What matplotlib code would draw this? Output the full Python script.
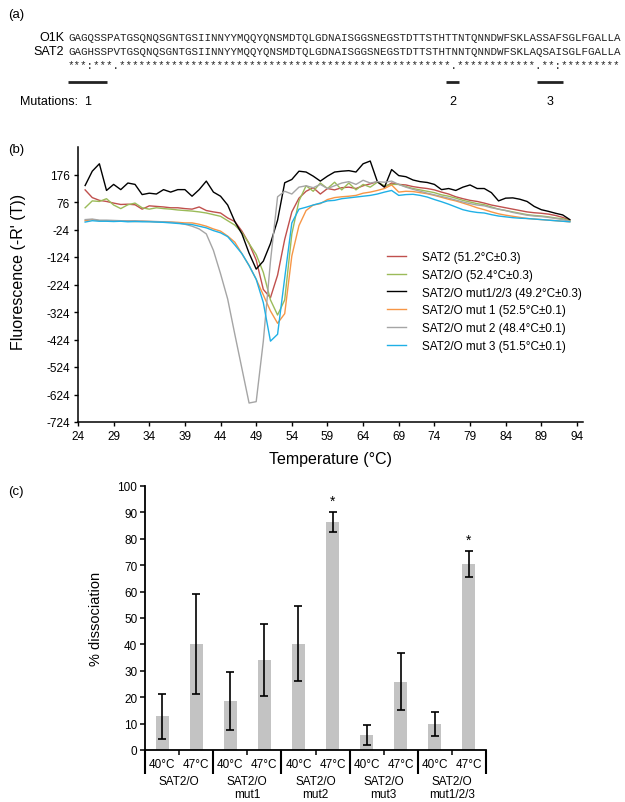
import matplotlib
matplotlib.use("Agg")
import matplotlib.pyplot as plt
import matplotlib.transforms as mtransforms
import numpy as np

plt.rcParams['font.family'] = ['Liberation Sans', 'DejaVu Sans']
plt.rcParams['axes.unicode_minus'] = False

# ---------------- data ----------------
seq_o1k = "GAGQSSPATGSQNQSGNTGSIINNYYMQQYQNSMDTQLGDNAISGGSNEGSTDTTSTHTTNTQNNDWFSKLASSAFSGLFGALLA"
seq_sat2 = "GAGHSSPVTGSQNQSGNTGSIINNYYMQQYQNSMDTQLGDNAISGGSNEGSTDTTSTHTNNTQNNDWFSKLAQSAISGLFGALLA"
conservation = "***:***.***************************************************.************.**:*********"
seq_names = ["O1K", "SAT2"]
mut_names = ["1", "2", "3"]
mut_ranges = [(1, 6), (59, 60), (73, 76)]   # residue ranges (1-based, inclusive)

temps = list(range(25, 94))
sat2 = [120, 92, 82, 78, 72, 67, 68, 66, 50, 62, 60, 58, 55, 55, 52, 50, 58, 45, 40, 36,
        18, 5, -30, -75, -135, -242, -272, -190, -60, 40, 90, 115, 128, 105, 125, 120, 128, 130,
        125, 135, 142, 150, 130, 145, 140, 138, 132, 128, 125, 120, 112, 105, 95, 88, 82, 78,
        72, 65, 60, 55, 50, 45, 40, 37, 35, 32, 27, 20, 10]
sat2o = [55, 80, 78, 88, 65, 52, 66, 72, 55, 50, 55, 52, 50, 47, 45, 43, 40, 36, 30, 24,
         8, -8, -35, -75, -115, -180, -280, -335, -280, -40, 80, 135, 115, 145, 125, 148, 120,
         145, 120, 140, 130, 148, 135, 140, 140, 132, 125, 120, 115, 110, 102, 97, 90, 82, 76,
         70, 66, 58, 50, 45, 40, 35, 30, 27, 25, 22, 18, 15, 8]
mut123 = [136, 188, 215, 118, 140, 121, 145, 140, 103, 108, 105, 121, 112, 121, 121, 97, 121,
          152, 112, 97, 65, 5, -40, -110, -168, -139, -75, 10, 146, 158, 188, 185, 170, 152, 170,
          185, 188, 190, 185, 215, 225, 150, 130, 194, 172, 168, 156, 150, 147, 140, 121, 125,
          118, 130, 138, 125, 125, 110, 80, 90, 91, 86, 78, 60, 48, 42, 35, 29, 12]
mut1 = [8, 12, 8, 8, 6, 6, 6, 5, 6, 5, 4, 4, 3, 2, 0, 0, -5, -12, -22, -30, -48, -70, -112,
        -155, -205, -262, -320, -365, -330, -120, -10, 45, 65, 70, 85, 92, 95, 97, 100, 108,
        112, 118, 125, 138, 112, 115, 114, 110, 106, 100, 93, 86, 80, 72, 64, 55, 48, 40, 33,
        28, 24, 20, 16, 14, 12, 10, 8, 6, 4]
mut2 = [12, 14, 10, 10, 9, 8, 8, 8, 7, 6, 5, 4, 3, 0, -5, -12, -22, -40, -100, -185, -277,
        -405, -530, -655, -650, -430, -140, 95, 115, 105, 130, 135, 128, 140, 125, 135, 145, 150,
        140, 155, 145, 150, 148, 152, 140, 130, 122, 115, 108, 102, 96, 90, 83, 76, 70, 65, 62,
        55, 50, 45, 38, 33, 28, 25, 23, 20, 16, 12, 6]
mut3 = [3, 8, 6, 6, 5, 6, 4, 5, 4, 4, 3, 2, 0, -2, -4, -6, -12, -18, -28, -36, -50, -80,
        -112, -155, -205, -290, -430, -405, -200, 0, 50, 57, 65, 72, 80, 82, 88, 91, 94, 97, 100,
        105, 112, 118, 100, 103, 104, 100, 94, 85, 77, 68, 58, 48, 42, 38, 36, 30, 25, 22, 19,
        17, 16, 14, 12, 10, 8, 6, 4]
curve_labels = ["SAT2 (51.2°C±0.3)", "SAT2/O (52.4°C±0.3)", "SAT2/O mut1/2/3 (49.2°C±0.3)",
                "SAT2/O mut 1 (52.5°C±0.1)", "SAT2/O mut 2 (48.4°C±0.1)", "SAT2/O mut 3 (51.5°C±0.1)"]
curve_colors = ["#c0504d", "#9bbb59", "#000000", "#f79646", "#a5a5a5", "#1fb0e6"]

groups = ["SAT2/O", "SAT2/O\nmut1", "SAT2/O\nmut2", "SAT2/O\nmut3", "SAT2/O\nmut1/2/3"]
conds = ["40°C", "47°C"]
dissoc = [12.7, 40.3, 18.6, 34.0, 40.3, 86.2, 5.7, 25.9, 9.9, 70.6]
dissoc_err = [8.6, 18.9, 10.9, 13.7, 14.1, 3.8, 3.8, 10.7, 4.6, 4.9]
significant = [False, False, False, False, False, True, False, False, False, True]

# ---------------- figure ----------------
W, H = 625, 803
fig = plt.figure(figsize=(W / 100, H / 100), dpi=100)


def fx(x):
    return x / W


def fy(y):
    return 1 - y / H


# panel labels
for lab, y in [("(a)", 15), ("(b)", 150), ("(c)", 492)]:
    fig.text(fx(8), fy(y), lab, fontsize=9.5, va='center', ha='left')

# ---------------- panel (a) ----------------
ax_a = fig.add_axes([fx(68), fy(112), 554 / W, 100 / H])
ax_a.set_xlim(0, len(seq_o1k))
ax_a.set_ylim(112, 12)
ax_a.axis('off')
for s, y in [(seq_o1k, 38), (seq_sat2, 52), (conservation, 66)]:
    ax_a.text(0, y, s, family='Liberation Mono', fontsize=7.82, va='center', ha='left',
              color='#222222')
for name, y in zip(seq_names, [38, 52]):
    fig.text(fx(64), fy(y), name, fontsize=9, ha='right', va='center')
fig.text(fx(20), fy(102), "Mutations:", fontsize=9, ha='left', va='center')
for name, (a, b) in zip(mut_names, mut_ranges):
    ax_a.plot([a - 1, b], [83, 83], color='#222222', lw=2.0, solid_capstyle='butt')
    ax_a.text((a - 1 + b) / 2, 102, name, fontsize=9, ha='center', va='center')

# ---------------- panel (b) ----------------
ax_b = fig.add_axes([fx(78), fy(423), 505 / W, 275 / H])
series = [sat2, sat2o, mut123, mut1, mut2, mut3]
for vals, col, lab in zip(series, curve_colors, curve_labels):
    ax_b.plot(temps, vals, color=col, lw=1.0, label=lab)
ax_b.set_xlim(24, 94.85)
ax_b.set_ylim(-724, 276)
ax_b.set_xticks(np.arange(24, 95, 5))
ax_b.set_yticks(np.arange(-724, 177, 100))
for sp in ['top', 'right']:
    ax_b.spines[sp].set_visible(False)
for sp in ['left', 'bottom']:
    ax_b.spines[sp].set_linewidth(1.1)
ax_b.tick_params(direction='out', length=3, width=1.0, labelsize=8.5, pad=3)
ax_b.set_xlabel("Temperature (°C)", fontsize=11.5, labelpad=6)
ax_b.set_ylabel("Fluorescence (-R' (T))", fontsize=11.5)
ax_b.yaxis.set_label_coords(-0.103, 0.55)
ax_b.legend(loc='upper left', bbox_to_anchor=(fx(387), fy(252)), bbox_transform=fig.transFigure,
            frameon=False, fontsize=8.5, handlelength=1.6, handletextpad=1.35,
            labelspacing=0.49, borderpad=0, borderaxespad=0)

# ---------------- panel (c) ----------------
ax_c = fig.add_axes([fx(145), fy(751), 341 / W, 264 / H])
xpos = np.arange(len(dissoc)) + 0.5
ax_c.bar(xpos, dissoc, width=0.38, color='#c3c3c3', yerr=dissoc_err, capsize=2.6,
         error_kw=dict(elinewidth=1.2, capthick=1.2, ecolor='black'))
for x, v, e, s in zip(xpos, dissoc, dissoc_err, significant):
    if s:
        ax_c.text(x, v + e + 4.3, "*", ha='center', va='center', fontsize=10)
ax_c.set_xlim(0, len(dissoc))
ax_c.set_ylim(0, 100)
ax_c.set_yticks(np.arange(0, 101, 10))
ax_c.set_xticks(xpos)
ax_c.set_xticklabels(conds * len(groups))
ngroups = len(groups)
ax_c.set_xticks(np.arange(ngroups) * 2 + 1, minor=True)
for sp in ['top', 'right']:
    ax_c.spines[sp].set_visible(False)
for sp in ['left', 'bottom']:
    ax_c.spines[sp].set_linewidth(1.3)
ax_c.tick_params(axis='y', direction='out', length=3.5, width=1.1, labelsize=8.5, pad=2)
ax_c.tick_params(axis='x', which='major', length=0, labelsize=8.5, pad=6)
ax_c.tick_params(axis='x', which='minor', direction='out', length=3.5, width=1.1)
ax_c.set_ylabel("% dissociation", fontsize=10.5)
ax_c.yaxis.set_label_coords(-0.123, 0.5)
trans = mtransforms.blended_transform_factory(ax_c.transData, ax_c.transAxes)
sep_len = 24 / 264
for g in range(ngroups + 1):
    ax_c.plot([2 * g, 2 * g], [0, -sep_len], color='black', lw=1.5, transform=trans,
              clip_on=False, solid_capstyle='butt')
for g, name in enumerate(groups):
    ax_c.text(2 * g + 1, -25 / 264, name, transform=trans, ha='center', va='top',
              fontsize=8.5, linespacing=1.1, multialignment='center')

fig.savefig("out.png", dpi=100)
